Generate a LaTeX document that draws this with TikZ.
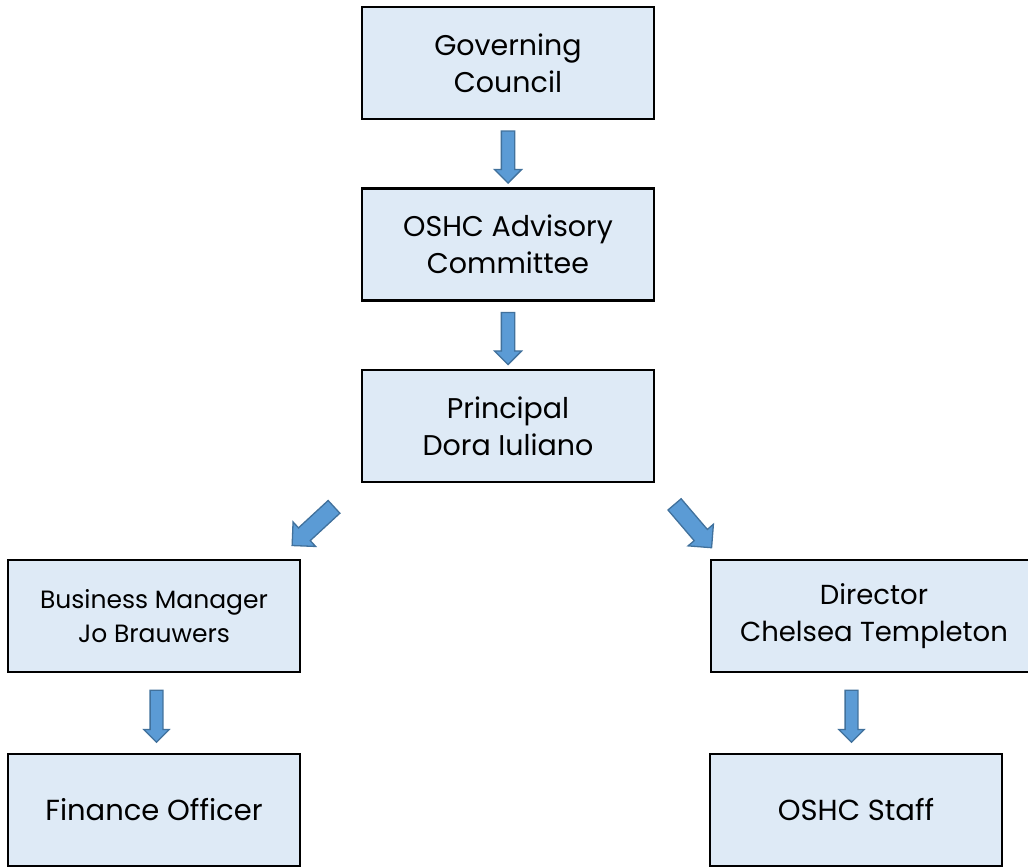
\documentclass[tikz,border=0pt]{standalone}
\usepackage{fontspec}
\setmainfont{Poppins}
\usetikzlibrary{shapes.arrows,calc}
\definecolor{boxfill}{RGB}{222,234,246}
\definecolor{arrowfill}{RGB}{91,155,213}
\definecolor{arrowline}{RGB}{65,113,156}
\tikzset{
  unit/.style={draw=black, line width=2.5pt, fill=boxfill, align=center,
    minimum width=292pt, minimum height=112pt, inner sep=0pt,
    font=\fontsize{28.5}{37}\selectfont},
  flowdown/.style={single arrow, draw=arrowline, fill=arrowfill, line width=1.3pt,
    inner sep=6pt, minimum height=52pt, single arrow head extend=7pt, rotate=-90},
  flowside/.style={single arrow, draw=arrowline, fill=arrowfill, line width=1.3pt,
    inner sep=8pt, minimum height=57pt, single arrow head extend=8pt}
}
\begin{document}
\begin{tikzpicture}[x=1pt,y=-1pt]
  \useasboundingbox (0,0) rectangle (1028,867);
  \clip (0,0) rectangle (1028,867);
  % the chain of units
  \draw
  (508,63) node[unit](gov){Governing\\Council}
  (508,244.5) node[unit](oac){OSHC Advisory\\Committee}
  (508,426) node[unit](prin){Principal\\Dora Iuliano}
  (154,616) node[unit,font=\fontsize{25}{34}\selectfont](bm){Business Manager\\Jo Brauwers}
  (874,616) node[unit,minimum width=326pt,font=\fontsize{27.5}{37}\selectfont](dir){Director\\Chelsea Templeton}
  (154,810) node[unit,font=\fontsize{29}{37}\selectfont](fin){Finance Officer}
  (856,810) node[unit,font=\fontsize{29}{37}\selectfont](staff){OSHC Staff};
  % block arrows between the units
  \node[flowdown] (a1) at ($(gov.south)!.5!(oac.north)$) {};
  \node[flowdown] (a2) at ($(oac.south)!.5!(prin.north)$) {};
  \node[flowside,rotate=222.7] (a3) at ($(prin.south west)+(-44.5,40)$) {};
  \node[flowside,rotate=-49.5] (a4) at ($(prin.south east)+(35,39.5)$) {};
  \node[flowdown,inner sep=5.75pt,single arrow head extend=6.25pt] (a5) at ($(bm.south)!.5!(fin.north)+(2.5,0)$) {};
  \node[flowdown,inner sep=5.75pt,single arrow head extend=6.25pt] (a6) at ($(staff.north)!.5!(staff.north|-dir.south)+(-4.5,0)$) {};
\end{tikzpicture}
\end{document}
